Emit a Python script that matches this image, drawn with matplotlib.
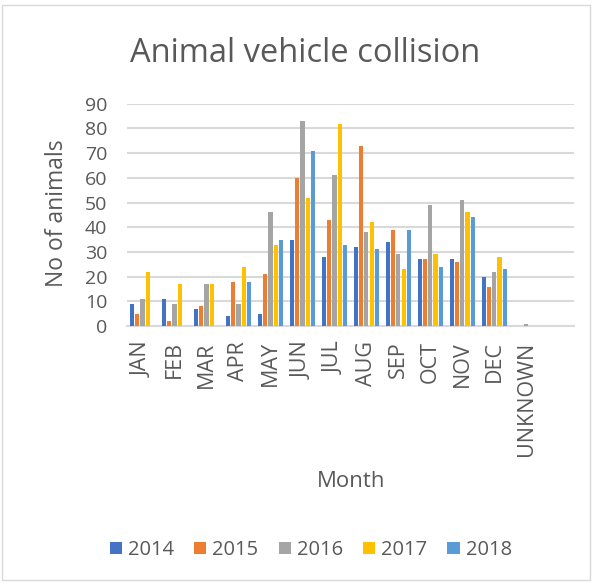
import matplotlib.pyplot as plt
import numpy as np
from matplotlib.patches import Rectangle

# dados
meses = ['JAN', 'FEB', 'MAR', 'APR', 'MAY', 'JUN', 'JUL', 'AUG', 'SEP', 'OCT', 'NOV', 'DEC', 'UNKNOWN']
anos = ['2014', '2015', '2016', '2017', '2018']
v2014 = [9, 11, 7, 4, 5, 35, 28, 32, 34, 27, 27, 20, 0]
v2015 = [5, 2, 8, 18, 21, 60, 43, 73, 39, 27, 26, 16, 0]
v2016 = [11, 9, 17, 9, 46, 83, 61, 38, 29, 49, 51, 22, 1]
v2017 = [22, 17, 17, 24, 33, 52, 82, 42, 23, 29, 46, 28, 0]
v2018 = [0, 0, 0, 18, 35, 71, 33, 31, 39, 24, 44, 23, 0]
series = [v2014, v2015, v2016, v2017, v2018]
cores = ['#4472C4', '#ED7D31', '#A5A5A5', '#FFC000', '#5B9BD5']

plt.rcParams['font.family'] = ['Open Sans', 'DejaVu Sans']
cinza = '#595959'

fig = plt.figure(figsize=(6, 5.87), dpi=100)
ax = fig.add_axes([0.211, 0.4446, 0.746, 0.3786])

x = np.arange(len(meses))
larg = 0.165
for i, (ano, vals) in enumerate(zip(anos, series)):
    ax.bar(x + (i - 2) * larg, vals, width=larg * 0.8, color=cores[i], label=ano, zorder=3)

ax.set_xlim(-0.5, 13.5)
ax.set_ylim(0, 90)
ax.set_yticks(range(0, 91, 10))
ax.set_xticks(x)
ax.set_xticklabels(meses, rotation=90, fontsize=15.5, color=cinza)
ax.tick_params(axis='y', labelsize=14, colors=cinza, length=0, pad=14)
ax.tick_params(axis='x', length=0, pad=11)
ax.grid(axis='y', color='#D9D9D9', linewidth=1.5, zorder=0)
for s in ['top', 'right', 'left']:
    ax.spines[s].set_visible(False)
ax.spines['bottom'].set_color('#D9D9D9')
ax.spines['bottom'].set_linewidth(1.5)

fig.text(0.508, 0.895, 'Animal vehicle collision', ha='center', va='baseline', fontsize=23.5, color=cinza)
fig.text(0.095, 0.636, 'No of animals', ha='center', va='center', rotation=90, fontsize=16.5, color=cinza)
fig.text(0.585, 0.171, 'Month', ha='center', va='baseline', fontsize=16, color=cinza)

fig.legend(loc='center', bbox_to_anchor=(0.518, 0.063), ncol=5, frameon=False,
           fontsize=14.5, labelcolor=cinza, handlelength=0.6, handleheight=0.6,
           handletextpad=0.3, columnspacing=1.0)

fig.patches.append(Rectangle((0.004, 0.012), 0.98, 0.98, transform=fig.transFigure,
                             fill=False, edgecolor='#D9D9D9', linewidth=1))

fig.savefig('out.png', dpi=100, facecolor='white')
